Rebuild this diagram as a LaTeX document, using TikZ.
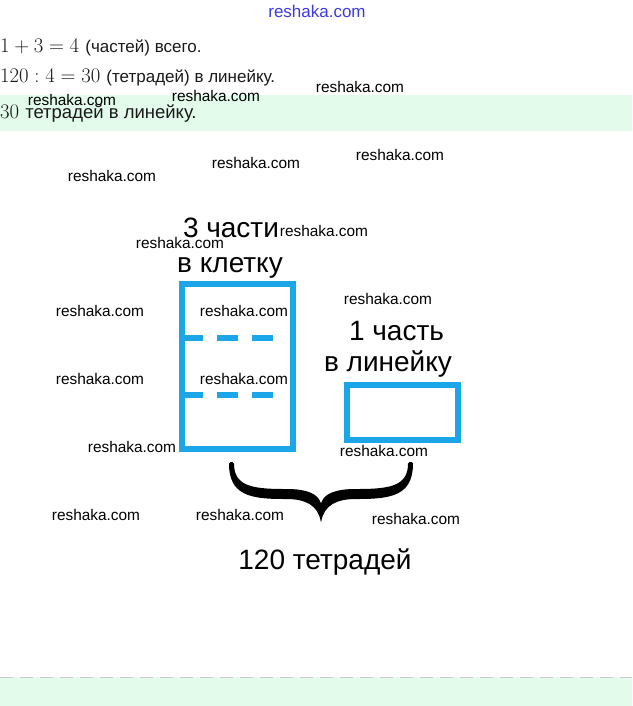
\documentclass[tikz,border=0pt]{standalone}
\usepackage{fontspec}
\newfontfamily\arialfont{Liberation Sans}
\usetikzlibrary{positioning, calc}
\definecolor{partblue}{HTML}{1BA6EA}
\definecolor{mintband}{HTML}{E3FBEA}
\definecolor{siteblue}{HTML}{3B3BE6}

\begin{document}
\begin{tikzpicture}[
  x=1pt, y=-1pt,
  wmark/.style={inner sep=0pt, font=\arialfont\fontsize{15.4}{17}\selectfont},
  part/.style={draw=partblue, line width=6pt, outer sep=0pt, inner sep=0pt},
  split/.style={draw=partblue, line width=6pt, dash pattern=on 21pt off 14pt},
  lbl/.style={inner sep=0pt, anchor=base, font=\arialfont\fontsize{28}{32}\selectfont},
  calcline/.style={inner sep=0pt, anchor=base west, text=black!90, font=\fontsize{20}{24}\selectfont}
]
\useasboundingbox (0,0) rectangle (632,706);
% bands
\fill[mintband] (0,95) rectangle (632,131);
\fill[mintband] (0,677) rectangle (632,706);
\draw[gray!40, dash pattern=on 13pt off 7pt] (0,677) -- (632,677);

% solution text
\node[inner sep=0pt, text=siteblue, font=\arialfont\fontsize{17}{20}\selectfont] (site) at (317,11) {reshaka.com};
\node[calcline] (sum) at (0,53) {$1+3=4$ {\arialfont\fontsize{17}{20}\selectfont(частей) всего.}};
\node[calcline] (div) at (0,83) {$120:4=30$ {\arialfont\fontsize{17}{20}\selectfont(тетрадей) в линейку.}};
\node[calcline] (answer) at (0,118) {$30$ {\arialfont\fontsize{18.5}{22}\selectfont тетрадей в линейку.}};

% parts
\node[part, minimum width=111pt, minimum height=165pt] (klet) at (237.5,366.5) {};
\node[part, minimum width=111pt, minimum height=55pt] (lin) at (402.5,412.5) {};
\draw[split] ($(klet.north west)+(0,54)$) -- ++(93,0);
\draw[split] ($(klet.north west)+(0,111)$) -- ++(93,0);

\node[lbl] (k1) at (231,237) {3 части};
\node[lbl] (k2) at (230,272) {в клетку};
\node[lbl] (l1) at (396.5,340) {1 часть};
\node[lbl] (l2) at (388,371) {в линейку};

% brace
\fill[black, rounded corners=1.5pt] (229,462)
  .. controls (229,495) and (250,499) .. (285,499)
  .. controls (305,499) and (318,505) .. (321,523)
  .. controls (324,505) and (337,499) .. (357,499)
  .. controls (392,499) and (413,495) .. (413,462)
  -- (408,462)
  .. controls (408,485) and (392,489) .. (357,489)
  .. controls (335,489) and (324,494) .. (321,504)
  .. controls (318,494) and (307,489) .. (285,489)
  .. controls (250,489) and (234,485) .. (234,462) -- cycle;
\node[lbl] (total) at (325,569) {120 тетрадей};

% watermarks
\node[wmark] (w1) at (72,100) {reshaka.com};
\node[wmark] (w2) at (216,96) {reshaka.com};
\node[wmark] (w3) at (360,87) {reshaka.com};
\node[wmark] (w4) at (112,176) {reshaka.com};
\node[wmark] (w5) at (256,163) {reshaka.com};
\node[wmark] (w6) at (400,155) {reshaka.com};
\node[wmark] (w7) at (180,243) {reshaka.com};
\node[wmark] (w8) at (324,231) {reshaka.com};
\node[wmark] (w9) at (100,311) {reshaka.com};
\node[wmark] (w10) at (244,311) {reshaka.com};
\node[wmark] (w11) at (388,299) {reshaka.com};
\node[wmark] (w12) at (100,379) {reshaka.com};
\node[wmark] (w13) at (244,379) {reshaka.com};
\node[wmark] (w14) at (132,447) {reshaka.com};
\node[wmark] (w15) at (384,451) {reshaka.com};
\node[wmark] (w16) at (96,515) {reshaka.com};
\node[wmark] (w17) at (240,515) {reshaka.com};
\node[wmark] (w18) at (416,519) {reshaka.com};
\end{tikzpicture}
\end{document}
